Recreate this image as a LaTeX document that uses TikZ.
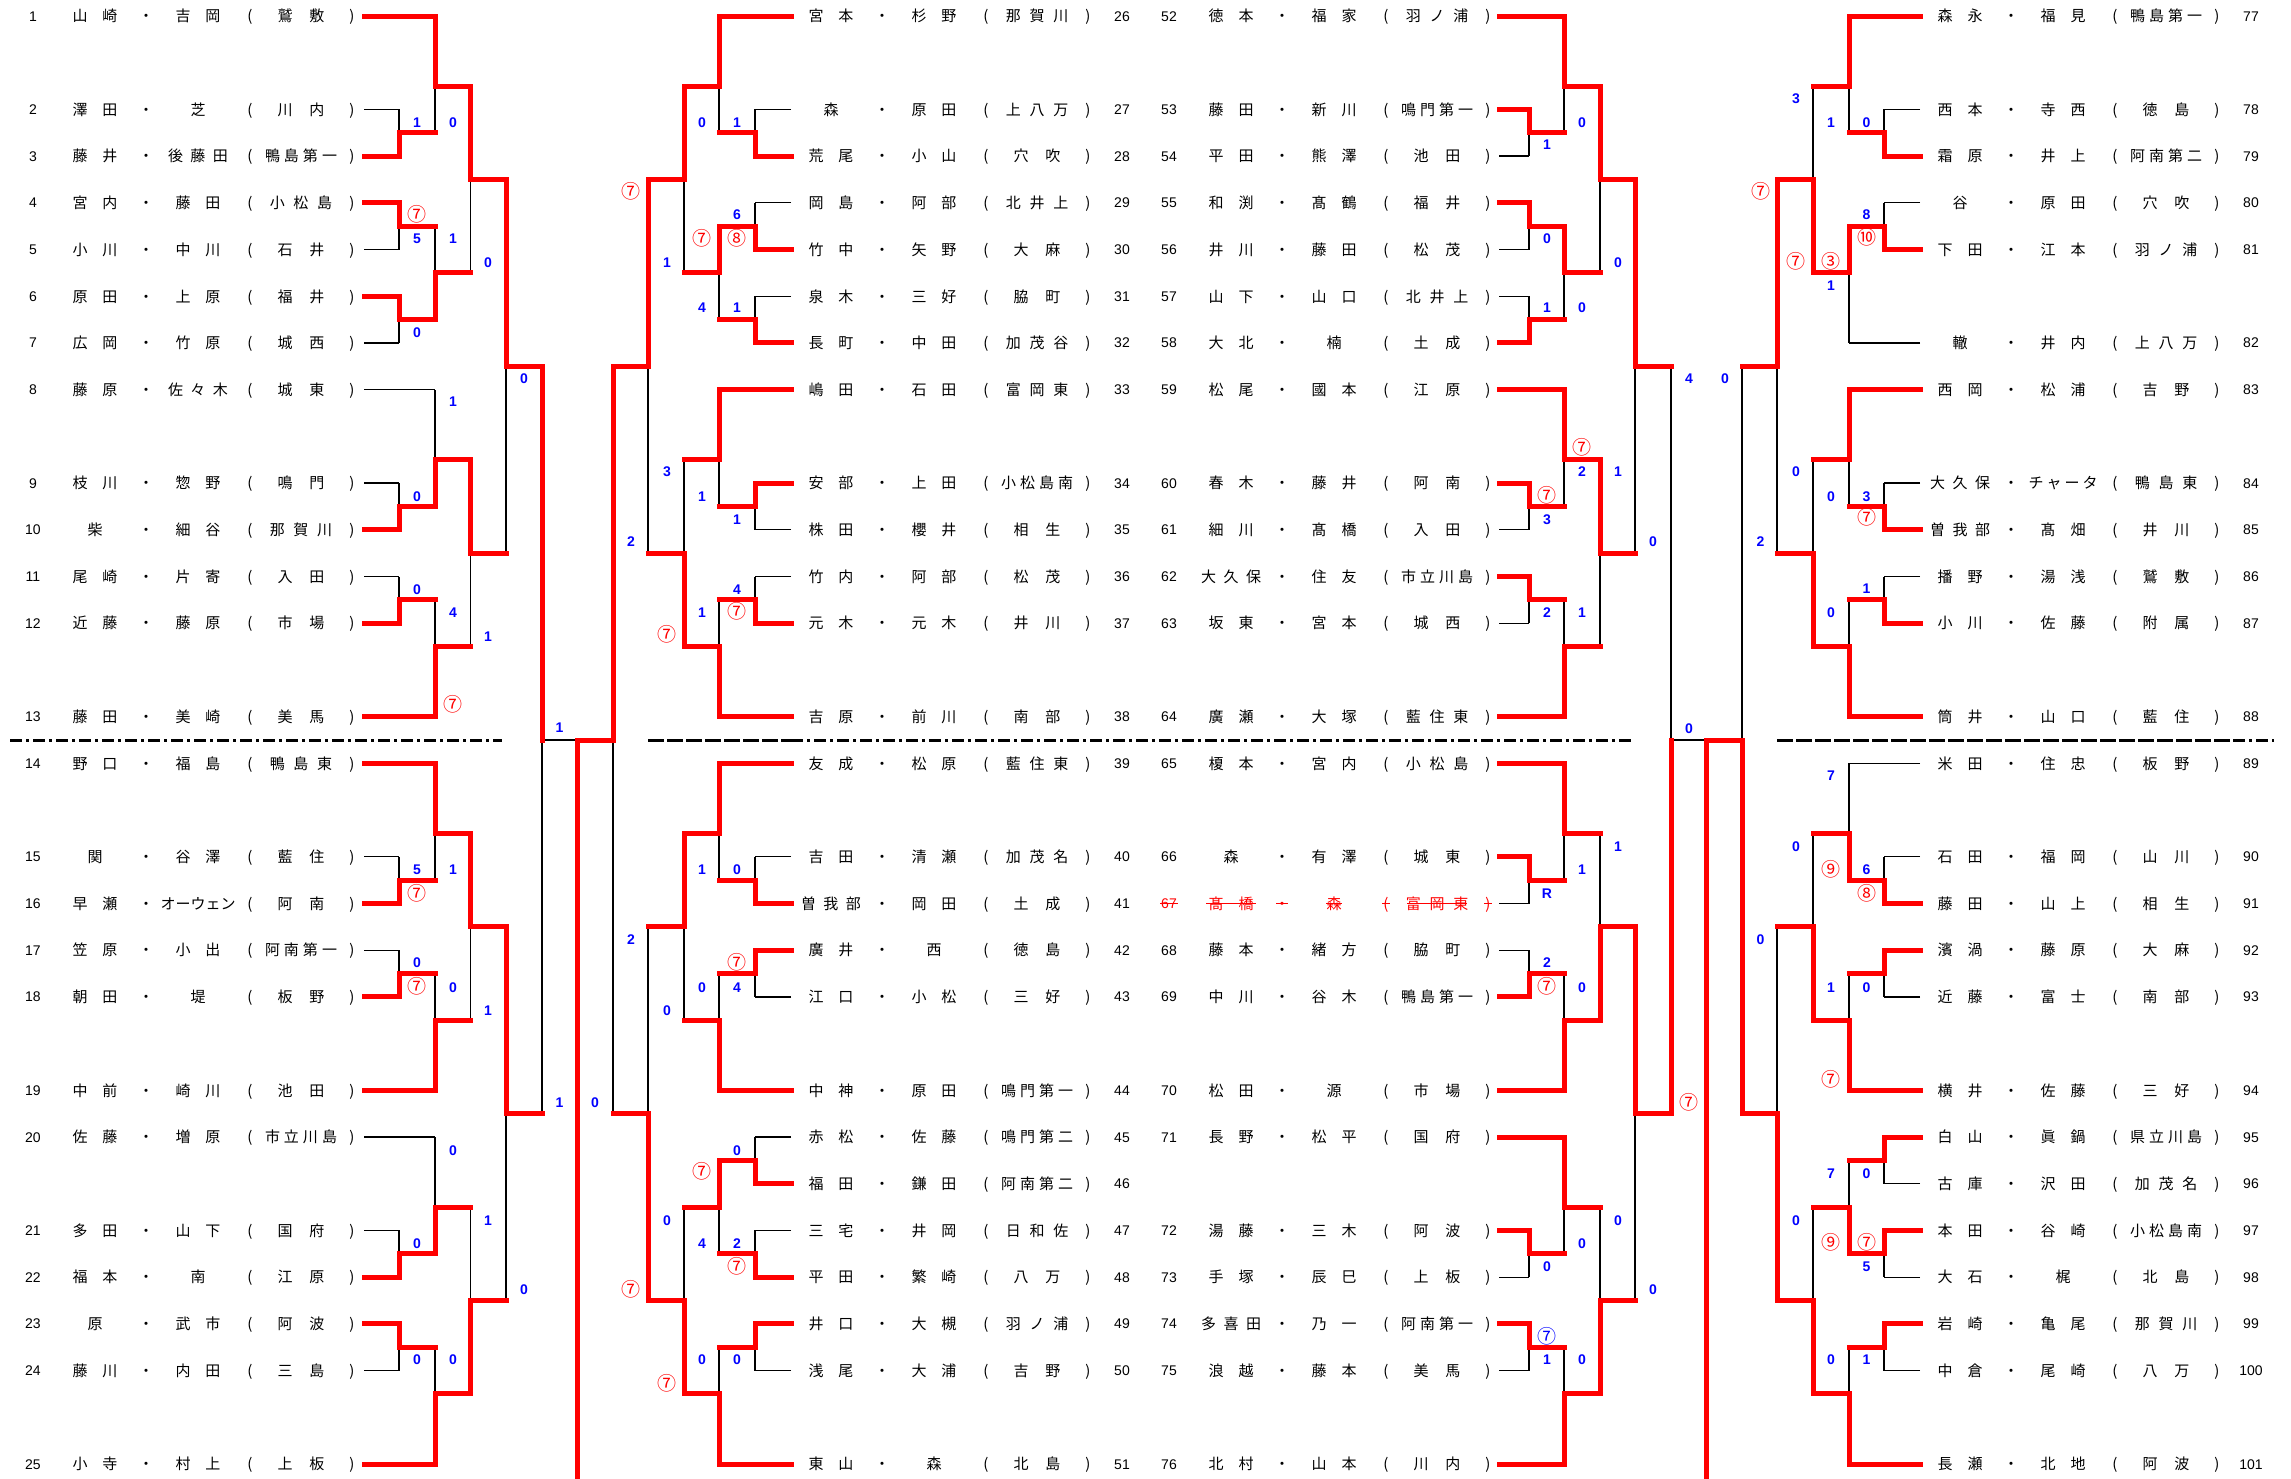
\documentclass[tikz,border=0pt]{standalone}
\usepackage{fontspec}
\setmainfont{Liberation Sans}
\newfontfamily\jp{Noto Sans CJK JP}
\usetikzlibrary{backgrounds}
\tikzset{
    win/.style = {draw=red, line width=5pt, line cap=rect},
    lose/.style = {draw=black, line width=1.3pt},
    divider/.style = {draw=black, line width=3pt, dash pattern=on 12pt off 4pt on 3pt off 4pt},
    slant/.style = {draw=black, line width=3pt, dash pattern=on 16pt off 3pt},
    jp/.style = {inner sep=0pt, text=\ecol, font=\jp\fontsize{15}{15}\selectfont, text height=12.5pt, text depth=1pt},
    num/.style = {inner sep=0pt, text=\ecol, font=\fontsize{14}{14}\selectfont, text height=10pt, text depth=0pt},
    sco/.style = {inner sep=0pt, text=blue, font=\bfseries\fontsize{14}{14}\selectfont, text height=10pt, text depth=0pt}
}
\newcommand\ecol{black}
% circled marks, red or blue
\newcommand\cn[1]{\textcolor{red}{\mdseries\jp\fontsize{19}{19}\selectfont\raisebox{-1.8pt}{#1}}}
\newcommand\bn[1]{\textcolor{blue}{\mdseries\jp\fontsize{19}{19}\selectfont\raisebox{-1.8pt}{#1}}}
\newcommand\spread[2]{\makebox[#1]{\hfill\spreadloop#2\relax}}
\def\spreadloop#1{\ifx\relax#1\else#1\hfill\expandafter\spreadloop\fi}
% block: paren x, number x, line start x
\newcommand\block[3]{\def\parx{#1}\def\numx{#2}\def\linex{#3}}
% entry: id, slot, name, name, school, w/l, first vertical
\newcommand\entry[7]{%
  \node[jp] (fn#1) at (\parx-155,#2) {\spread{75pt}{#3}};
  \node[jp] (dt#1) at (\parx-104,#2) {・};
  \node[jp] (sn#1) at (\parx-52,#2) {\spread{75pt}{#4}};
  \node[jp] (op#1) at (\parx,#2) {(};
  \node[jp] (sc#1) at (\parx+51,#2) {\spread{80pt}{#5}};
  \node[jp] (cp#1) at (\parx+102,#2) {)};
  \node[num] (no#1) at (\numx,#2) {#1};
  \coordinate (e#1) at (\linex,#2);
  \ifx w#6 \draw[win] (e#1) -- (#7,#2);
  \else \begin{scope}[on background layer]\draw[lose] (e#1) -- (#7,#2);\end{scope}\fi
}
% bout: vertical x, top, bottom, joint, winner t/b, next vertical
\newcommand\bout[6]{%
  \ifx t#5\def\wy{#2}\def\ly{#3}\else\def\wy{#3}\def\ly{#2}\fi
  \begin{scope}[on background layer]\draw[lose] (#1,#4) -- (#1,\ly);\end{scope}
  \draw[win] (#1,\wy) -- (#1,#4) -- (#6,#4);
}
\newcommand\scores[3]{\foreach \yy/\txt [count=\k] in {#3} \node[sco] (#2\k) at (#1,\yy) {\txt};}

\begin{document}
\begin{tikzpicture}[x=1pt, y=-46.71pt]
\useasboundingbox (0,-0.34254) rectangle (2291,31.2995);

% left block
\block{250}{33}{364}
\entry{1}{0}{山崎}{吉岡}{鷲敷}{w}{435}
\entry{2}{2}{澤田}{芝}{川内}{l}{399}
\entry{3}{3}{藤井}{後藤田}{鴨島第一}{w}{399}
\entry{4}{4}{宮内}{藤田}{小松島}{w}{399}
\entry{5}{5}{小川}{中川}{石井}{l}{399}
\entry{6}{6}{原田}{上原}{福井}{w}{399}
\entry{7}{7}{広岡}{竹原}{城西}{l}{399}
\entry{8}{8}{藤原}{佐々木}{城東}{l}{435}
\entry{9}{10}{枝川}{惣野}{鳴門}{l}{399}
\entry{10}{11}{柴}{細谷}{那賀川}{w}{399}
\entry{11}{12}{尾崎}{片寄}{入田}{l}{399}
\entry{12}{13}{近藤}{藤原}{市場}{w}{399}
\entry{13}{15}{藤田}{美崎}{美馬}{w}{435}
\entry{14}{16}{野口}{福島}{鴨島東}{w}{435}
\entry{15}{18}{関}{谷澤}{藍住}{l}{399}
\entry{16}{19}{早瀬}{オーウェン}{阿南}{w}{399}
\entry{17}{20}{笠原}{小出}{阿南第一}{l}{399}
\entry{18}{21}{朝田}{堤}{板野}{w}{399}
\entry{19}{23}{中前}{崎川}{池田}{w}{435}
\entry{20}{24}{佐藤}{増原}{市立川島}{l}{435}
\entry{21}{26}{多田}{山下}{国府}{l}{399}
\entry{22}{27}{福本}{南}{江原}{w}{399}
\entry{23}{28}{原}{武市}{阿波}{w}{399}
\entry{24}{29}{藤川}{内田}{三島}{l}{399}
\entry{25}{31}{小寺}{村上}{上板}{w}{435}

\bout{399}{2}{3}{2.5}{b}{435}
\bout{399}{4}{5}{4.5}{t}{435}
\bout{399}{6}{7}{6.5}{t}{435}
\bout{399}{10}{11}{10.5}{b}{435}
\bout{399}{12}{13}{12.5}{b}{435}
\bout{399}{18}{19}{18.5}{b}{435}
\bout{399}{20}{21}{20.5}{b}{435}
\bout{399}{26}{27}{26.5}{b}{435}
\bout{399}{28}{29}{28.5}{t}{435}
\bout{435}{0}{2.5}{1.5}{t}{470.5}
\bout{435}{4.5}{6.5}{5.5}{b}{470.5}
\bout{435}{8}{10.5}{9.5}{b}{470.5}
\bout{435}{12.5}{15}{13.5}{b}{470.5}
\bout{435}{16}{18.5}{17.5}{t}{470.5}
\bout{435}{20.5}{23}{21.5}{b}{470.5}
\bout{435}{24}{26.5}{25.5}{b}{470.5}
\bout{435}{28.5}{31}{29.5}{b}{470.5}
\bout{470.5}{1.5}{5.5}{3.5}{t}{506}
\bout{470.5}{9.5}{13.5}{11.5}{t}{506}
\bout{470.5}{17.5}{21.5}{19.5}{t}{506}
\bout{470.5}{25.5}{29.5}{27.5}{b}{506}
\bout{506}{3.5}{11.5}{7.5}{t}{542}
\bout{506}{19.5}{27.5}{23.5}{t}{542}
\bout{542}{7.5}{23.5}{15.5}{t}{542}

\scores{417}{la}{2.27/1, 4.26/{\cn{⑦}}, 4.77/5, 6.77/0, 10.28/0, 12.27/0, 18.28/5, 18.78/{\cn{⑦}}, 20.27/0, 20.79/{\cn{⑦}}, 26.27/0, 28.77/0}
\scores{453}{lb}{2.27/0, 4.77/1, 8.26/1, 12.78/4, 14.75/{\cn{⑦}}, 18.28/1, 20.79/0, 24.28/0, 28.77/0}
\scores{488}{lc}{5.27/0, 13.29/1, 21.28/1, 25.78/1}
\scores{524}{ld}{7.75/0, 27.27/0}
\scores{559.5}{le}{15.24/1, 23.27/1}
\scores{595}{lf}{23.27/0}

% middle block, left half
\block{986}{1122}{791}
\entry{26}{0}{宮本}{杉野}{那賀川}{w}{719}
\entry{27}{2}{森}{原田}{上八万}{l}{755}
\entry{28}{3}{荒尾}{小山}{穴吹}{w}{755}
\entry{29}{4}{岡島}{阿部}{北井上}{l}{755}
\entry{30}{5}{竹中}{矢野}{大麻}{w}{755}
\entry{31}{6}{泉木}{三好}{脇町}{l}{755}
\entry{32}{7}{長町}{中田}{加茂谷}{w}{755}
\entry{33}{8}{嶋田}{石田}{富岡東}{w}{719}
\entry{34}{10}{安部}{上田}{小松島南}{w}{755}
\entry{35}{11}{株田}{櫻井}{相生}{l}{755}
\entry{36}{12}{竹内}{阿部}{松茂}{l}{755}
\entry{37}{13}{元木}{元木}{井川}{w}{755}
\entry{38}{15}{吉原}{前川}{南部}{w}{719}
\entry{39}{16}{友成}{松原}{藍住東}{w}{719}
\entry{40}{18}{吉田}{清瀬}{加茂名}{l}{755}
\entry{41}{19}{曽我部}{岡田}{土成}{w}{755}
\entry{42}{20}{廣井}{西}{徳島}{w}{755}
\entry{43}{21}{江口}{小松}{三好}{l}{755}
\entry{44}{23}{中神}{原田}{鳴門第一}{w}{719}
\entry{45}{24}{赤松}{佐藤}{鳴門第二}{l}{755}
\entry{46}{25}{福田}{鎌田}{阿南第二}{w}{755}
\entry{47}{26}{三宅}{井岡}{日和佐}{l}{755}
\entry{48}{27}{平田}{繁崎}{八万}{w}{755}
\entry{49}{28}{井口}{大槻}{羽ノ浦}{w}{755}
\entry{50}{29}{浅尾}{大浦}{吉野}{l}{755}
\entry{51}{31}{東山}{森}{北島}{w}{719}

\bout{755}{2}{3}{2.5}{b}{719}
\bout{755}{4}{5}{4.5}{b}{719}
\bout{755}{6}{7}{6.5}{b}{719}
\bout{755}{10}{11}{10.5}{t}{719}
\bout{755}{12}{13}{12.5}{b}{719}
\bout{755}{18}{19}{18.5}{b}{719}
\bout{755}{20}{21}{20.5}{t}{719}
\bout{755}{24}{25}{24.5}{b}{719}
\bout{755}{26}{27}{26.5}{b}{719}
\bout{755}{28}{29}{28.5}{t}{719}
\bout{719}{0}{2.5}{1.5}{t}{684}
\bout{719}{4.5}{6.5}{5.5}{t}{684}
\bout{719}{8}{10.5}{9.5}{t}{684}
\bout{719}{12.5}{15}{13.5}{b}{684}
\bout{719}{16}{18.5}{17.5}{t}{684}
\bout{719}{20.5}{23}{21.5}{b}{684}
\bout{719}{24.5}{26.5}{25.5}{t}{684}
\bout{719}{28.5}{31}{29.5}{b}{684}
\bout{684}{1.5}{5.5}{3.5}{t}{648}
\bout{684}{9.5}{13.5}{11.5}{b}{648}
\bout{684}{17.5}{21.5}{19.5}{t}{648}
\bout{684}{25.5}{29.5}{27.5}{b}{648}
\bout{648}{3.5}{11.5}{7.5}{t}{613}
\bout{648}{19.5}{27.5}{23.5}{b}{613}
\bout{613}{7.5}{23.5}{15.5}{t}{577}

\scores{737}{ma}{2.27/1, 4.26/6, 4.77/{\cn{⑧}}, 6.25/1, 10.77/1, 12.27/4, 12.76/{\cn{⑦}}, 18.28/0, 20.27/{\cn{⑦}}, 20.79/4, 24.28/0, 26.27/2, 26.78/{\cn{⑦}}, 28.77/0}
\scores{702}{mb}{2.27/0, 4.77/{\cn{⑦}}, 6.25/4, 10.28/1, 12.76/1, 18.28/1, 20.79/0, 24.75/{\cn{⑦}}, 26.27/4, 28.77/0}
\scores{667}{mc}{5.27/1, 9.76/3, 13.25/{\cn{⑦}}, 21.28/0, 25.78/0, 29.27/{\cn{⑦}}}
\scores{631}{md}{3.77/{\cn{⑦}}, 11.26/2, 19.78/2, 27.27/{\cn{⑦}}}

% middle block, right half
\block{1386}{1169}{1499}
\entry{52}{0}{徳本}{福家}{羽ノ浦}{w}{1564}
\entry{53}{2}{藤田}{新川}{鳴門第一}{w}{1529}
\entry{54}{3}{平田}{熊澤}{池田}{l}{1529}
\entry{55}{4}{和渕}{髙鶴}{福井}{w}{1529}
\entry{56}{5}{井川}{藤田}{松茂}{l}{1529}
\entry{57}{6}{山下}{山口}{北井上}{l}{1529}
\entry{58}{7}{大北}{楠}{土成}{w}{1529}
\entry{59}{8}{松尾}{國本}{江原}{w}{1564}
\entry{60}{10}{春木}{藤井}{阿南}{w}{1529}
\entry{61}{11}{細川}{髙橋}{入田}{l}{1529}
\entry{62}{12}{大久保}{住友}{市立川島}{w}{1529}
\entry{63}{13}{坂東}{宮本}{城西}{l}{1529}
\entry{64}{15}{廣瀬}{大塚}{藍住東}{w}{1564}
\entry{65}{16}{榎本}{宮内}{小松島}{w}{1564}
\entry{66}{18}{森}{有澤}{城東}{w}{1529}
\renewcommand\ecol{red}
\entry{67}{19}{髙橋}{森}{富岡東}{l}{1529}
\renewcommand\ecol{black}
\foreach \p/\w in {no/9, fn/25, dt/6, sn/8, op/4, sc/30, cp/4}
  \draw[red, line width=1.2pt] ([xshift=-\w pt]\p67.center) -- ([xshift=\w pt]\p67.center);
\entry{68}{20}{藤本}{緒方}{脇町}{l}{1529}
\entry{69}{21}{中川}{谷木}{鴨島第一}{w}{1529}
\entry{70}{23}{松田}{源}{市場}{w}{1564}
\entry{71}{24}{長野}{松平}{国府}{w}{1564}
\entry{72}{26}{湯藤}{三木}{阿波}{w}{1529}
\entry{73}{27}{手塚}{辰巳}{上板}{l}{1529}
\entry{74}{28}{多喜田}{乃一}{阿南第一}{w}{1529}
\entry{75}{29}{浪越}{藤本}{美馬}{l}{1529}
\entry{76}{31}{北村}{山本}{川内}{w}{1564}

\bout{1529}{2}{3}{2.5}{t}{1564}
\bout{1529}{4}{5}{4.5}{t}{1564}
\bout{1529}{6}{7}{6.5}{b}{1564}
\bout{1529}{10}{11}{10.5}{t}{1564}
\bout{1529}{12}{13}{12.5}{t}{1564}
\bout{1529}{18}{19}{18.5}{t}{1564}
\bout{1529}{20}{21}{20.5}{b}{1564}
\bout{1529}{26}{27}{26.5}{t}{1564}
\bout{1529}{28}{29}{28.5}{t}{1564}
\bout{1564}{0}{2.5}{1.5}{t}{1600}
\bout{1564}{4.5}{6.5}{5.5}{t}{1600}
\bout{1564}{8}{10.5}{9.5}{t}{1600}
\bout{1564}{12.5}{15}{13.5}{b}{1600}
\bout{1564}{16}{18.5}{17.5}{t}{1600}
\bout{1564}{20.5}{23}{21.5}{b}{1600}
\bout{1564}{24}{26.5}{25.5}{t}{1600}
\bout{1564}{28.5}{31}{29.5}{b}{1600}
\bout{1600}{1.5}{5.5}{3.5}{t}{1635}
\bout{1600}{9.5}{13.5}{11.5}{t}{1635}
\bout{1600}{17.5}{21.5}{19.5}{b}{1635}
\bout{1600}{25.5}{29.5}{27.5}{b}{1635}
\bout{1635}{3.5}{11.5}{7.5}{t}{1671}
\bout{1635}{19.5}{27.5}{23.5}{t}{1671}
\bout{1671}{7.5}{23.5}{15.5}{b}{1671}

\scores{1547}{na}{2.76/1, 4.77/0, 6.25/1, 10.28/{\cn{⑦}}, 10.77/3, 12.76/2, 18.78/R, 20.27/2, 20.79/{\cn{⑦}}, 26.78/0, 28.28/{\bn{⑦}}, 28.77/1}
\scores{1582}{nb}{2.27/0, 6.25/0, 9.25/{\cn{⑦}}, 9.76/2, 12.76/1, 18.28/1, 20.79/0, 26.27/0, 28.77/0}
\scores{1618}{nc}{5.27/0, 9.76/1, 17.77/1, 25.78/0}
\scores{1653}{nd}{11.26/0, 27.27/0}
\scores{1689}{ne}{7.75/4, 15.26/0, 23.27/{\cn{⑦}}}
\scores{1725}{nf}{7.75/0}

% right block
\block{2115}{2251}{1920}
\entry{77}{0}{森永}{福見}{鴨島第一}{w}{1849}
\entry{78}{2}{西本}{寺西}{徳島}{l}{1884}
\entry{79}{3}{霜原}{井上}{阿南第二}{w}{1884}
\entry{80}{4}{谷}{原田}{穴吹}{l}{1884}
\entry{81}{5}{下田}{江本}{羽ノ浦}{w}{1884}
\entry{82}{7}{轍}{井内}{上八万}{l}{1849}
\entry{83}{8}{西岡}{松浦}{吉野}{w}{1849}
\entry{84}{10}{大久保}{チャータ}{鴨島東}{l}{1884}
\entry{85}{11}{曽我部}{髙畑}{井川}{w}{1884}
\entry{86}{12}{播野}{湯浅}{鷲敷}{l}{1884}
\entry{87}{13}{小川}{佐藤}{附属}{w}{1884}
\entry{88}{15}{筒井}{山口}{藍住}{w}{1849}
\entry{89}{16}{米田}{住忠}{板野}{l}{1849}
\entry{90}{18}{石田}{福岡}{山川}{l}{1884}
\entry{91}{19}{藤田}{山上}{相生}{w}{1884}
\entry{92}{20}{濱渦}{藤原}{大麻}{w}{1884}
\entry{93}{21}{近藤}{富士}{南部}{l}{1884}
\entry{94}{23}{横井}{佐藤}{三好}{w}{1849}
\entry{95}{24}{白山}{眞鍋}{県立川島}{w}{1884}
\entry{96}{25}{古庫}{沢田}{加茂名}{l}{1884}
\entry{97}{26}{本田}{谷崎}{小松島南}{w}{1884}
\entry{98}{27}{大石}{梶}{北島}{l}{1884}
\entry{99}{28}{岩崎}{亀尾}{那賀川}{w}{1884}
\entry{100}{29}{中倉}{尾崎}{八万}{l}{1884}
\entry{101}{31}{長瀬}{北地}{阿波}{w}{1849}

\bout{1884}{2}{3}{2.5}{b}{1849}
\bout{1884}{4}{5}{4.5}{b}{1849}
\bout{1884}{10}{11}{10.5}{b}{1849}
\bout{1884}{12}{13}{12.5}{b}{1849}
\bout{1884}{18}{19}{18.5}{b}{1849}
\bout{1884}{20}{21}{20.5}{t}{1849}
\bout{1884}{24}{25}{24.5}{t}{1849}
\bout{1884}{26}{27}{26.5}{t}{1849}
\bout{1884}{28}{29}{28.5}{t}{1849}
\bout{1849}{0}{2.5}{1.5}{t}{1813}
\bout{1849}{4.5}{7}{5.5}{t}{1813}
\bout{1849}{8}{10.5}{9.5}{t}{1813}
\bout{1849}{12.5}{15}{13.5}{b}{1813}
\bout{1849}{16}{18.5}{17.5}{b}{1813}
\bout{1849}{20.5}{23}{21.5}{b}{1813}
\bout{1849}{24.5}{26.5}{25.5}{b}{1813}
\bout{1849}{28.5}{31}{29.5}{b}{1813}
\bout{1813}{1.5}{5.5}{3.5}{b}{1777}
\bout{1813}{9.5}{13.5}{11.5}{b}{1777}
\bout{1813}{17.5}{21.5}{19.5}{b}{1777}
\bout{1813}{25.5}{29.5}{27.5}{b}{1777}
\bout{1777}{3.5}{11.5}{7.5}{t}{1742}
\bout{1777}{19.5}{27.5}{23.5}{b}{1742}
\bout{1742}{7.5}{23.5}{15.5}{b}{1706}

\scores{1866.6}{ra}{2.27/0, 4.26/8, 4.75/{\cn{⑩}}, 10.28/3, 10.75/{\cn{⑦}}, 12.25/1, 18.28/6, 18.78/{\cn{⑧}}, 20.79/0, 24.77/0, 26.27/{\cn{⑦}}, 26.78/5, 28.77/1}
\scores{1831}{rb}{2.27/1, 5.27/{\cn{③}}, 5.78/1, 10.28/0, 12.78/0, 16.27/7, 18.28/{\cn{⑨}}, 20.79/1, 22.78/{\cn{⑦}}, 24.77/7, 26.27/{\cn{⑨}}, 28.77/0}
\scores{1796}{rc}{1.76/3, 5.27/{\cn{⑦}}, 9.76/0, 17.77/0, 25.78/0}
\scores{1760.5}{rd}{3.77/{\cn{⑦}}, 11.26/2, 19.78/0}

% semifinals
\coordinate (sfL) at (577,15.5);
\coordinate (sfR) at (1706,15.5);
\begin{scope}[on background layer]
\draw[lose] (542,15.5) -- (sfL);
\draw[lose] (1671,15.5) -- (sfR);
\end{scope}
\draw[win] (sfL) -- (577,31.2995);
\draw[win] (sfR) -- (1706,31.2995);

% half dividers
\draw[divider] (10,15.5) -- (502,15.5);
\draw[slant] (648,15.5) -- (791,15.5);
\draw[divider] (791,15.5) -- (1634,15.5);
\draw[slant] (1777,15.5) -- (2233,15.5);
\draw[divider] (2233,15.5) -- (2274,15.5);
\end{tikzpicture}
\end{document}
